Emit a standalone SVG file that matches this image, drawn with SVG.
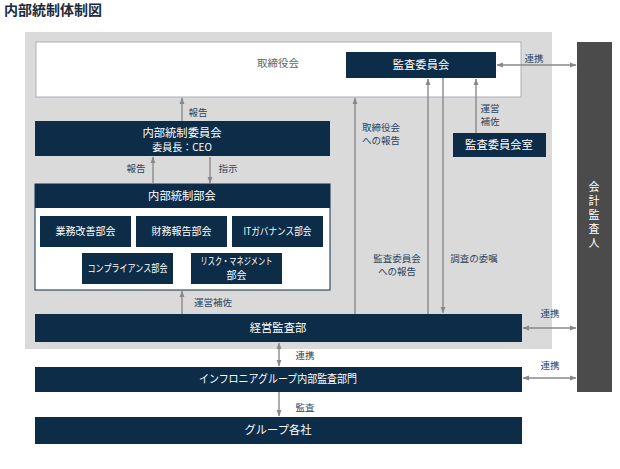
<svg xmlns="http://www.w3.org/2000/svg" width="620" height="469" viewBox="0 0 620 469">
<defs>
<marker id="ah" viewBox="0 0 6 6" refX="5.5" refY="3" markerWidth="5" markerHeight="5" orient="auto-start-reverse">
<path d="M0,0.8 L6,3 L0,5.2 Z" fill="#888"/>
</marker>
<style>
.nv{fill:#0c2c47}
.wt{fill:#fff;font-family:"Noto Sans CJK JP","Noto Sans",sans-serif;font-size:11.3px;text-anchor:middle}
.ws{fill:#fff;font-family:"Noto Sans CJK JP","Noto Sans",sans-serif;font-size:10px;text-anchor:middle}
.lb{fill:#2b4560;font-family:"Noto Sans CJK JP","Noto Sans",sans-serif;font-size:9.5px;text-anchor:middle}
.cn{stroke:#8a8a8a;stroke-width:1.4;fill:none}
</style>
</defs>
<rect width="620" height="469" fill="#fff"/>
<text x="4" y="15" font-family="'Noto Sans CJK JP',sans-serif" font-size="14" font-weight="bold" fill="#1b2b3b">内部統制体制図</text>
<rect x="25" y="32" width="527" height="317" fill="#dadada"/>

<g id="board">
<rect x="36" y="42" width="485" height="55" fill="#fff" stroke="#a9b1bb" stroke-width="1"/>
<text x="278" y="67" font-family="'Noto Sans CJK JP',sans-serif" font-size="10.5" fill="#666" text-anchor="middle">取締役会</text>
</g>
<g id="audit-committee">
<rect class="nv" x="346" y="52" width="150" height="26"/>
<text class="wt" x="421" y="69">監査委員会</text>
</g>
<g id="audit-committee-office">
<rect class="nv" x="453" y="133" width="93" height="24"/>
<text class="wt" x="499" y="149">監査委員会室</text>
</g>
<g id="auditor">
<rect x="577" y="42" width="35" height="350" fill="#4b4b4b"/>
<text x="594" y="181" writing-mode="vertical-rl" font-family="'Noto Sans CJK JP',sans-serif" font-size="11" letter-spacing="3" fill="#fff">会計監査人</text>
</g>
<g id="ic-committee">
<rect class="nv" x="35" y="121" width="295" height="35"/>
<text class="wt" x="182" y="137">内部統制委員会</text>
<text class="ws" x="182" y="151">委員長：CEO</text>
</g>
<g id="ic-subcommittee">
<rect x="35" y="184" width="295" height="106" fill="#fff" stroke="#0c2c47" stroke-width="1"/>
<rect class="nv" x="35" y="184" width="295" height="24"/>
<text class="wt" x="182" y="200">内部統制部会</text>
</g>
<g id="sub1"><rect class="nv" x="40" y="216" width="91" height="31"/><text class="ws" x="85.5" y="235">業務改善部会</text></g>
<g id="sub2"><rect class="nv" x="136" y="216" width="91" height="31"/><text class="ws" x="181.5" y="235">財務報告部会</text></g>
<g id="sub3"><rect class="nv" x="232" y="216" width="91" height="31"/><text class="ws" x="277.5" y="235" textLength="68" lengthAdjust="spacingAndGlyphs">ITガバナンス部会</text></g>
<g id="sub4"><rect class="nv" x="82" y="253" width="91" height="31"/><text class="ws" x="127.5" y="272" textLength="80" lengthAdjust="spacingAndGlyphs">コンプライアンス部会</text></g>
<g id="sub5"><rect class="nv" x="191" y="253" width="91" height="31"/><text class="ws" x="236.5" y="265" font-size="9.5" textLength="72" lengthAdjust="spacingAndGlyphs">リスク・マネジメント</text><text class="ws" x="236.5" y="279" font-size="9.5">部会</text></g>
<g id="mgmt-audit">
<rect class="nv" x="35" y="314" width="487" height="28"/>
<text class="wt" x="278" y="332">経営監査部</text>
</g>
<g id="group-audit">
<rect class="nv" x="35" y="367" width="487" height="25"/>
<text class="wt" x="278" y="383" textLength="158" lengthAdjust="spacingAndGlyphs">インフロニアグループ内部監査部門</text>
</g>
<g id="group-companies">
<rect class="nv" x="35" y="417" width="487" height="27"/>
<text class="wt" x="278" y="434">グループ各社</text>
</g>

<g id="connectors">
<line class="cn" x1="182" y1="121" x2="182" y2="98" marker-end="url(#ah)"/>
<line class="cn" x1="153" y1="184" x2="153" y2="157" marker-end="url(#ah)"/>
<line class="cn" x1="210" y1="157" x2="210" y2="183" marker-end="url(#ah)"/>
<line class="cn" x1="182" y1="314" x2="182" y2="291" marker-end="url(#ah)"/>
<line class="cn" x1="355" y1="314" x2="355" y2="98" marker-end="url(#ah)"/>
<line class="cn" x1="428" y1="314" x2="428" y2="79" marker-end="url(#ah)"/>
<line class="cn" x1="443" y1="78" x2="443" y2="313" marker-end="url(#ah)"/>
<line class="cn" x1="476" y1="133" x2="476" y2="79" marker-end="url(#ah)"/>
<line class="cn" x1="497" y1="65" x2="576" y2="65" marker-start="url(#ah)" marker-end="url(#ah)"/>
<line class="cn" x1="523" y1="328" x2="576" y2="328" marker-start="url(#ah)" marker-end="url(#ah)"/>
<line class="cn" x1="523" y1="378" x2="576" y2="378" marker-start="url(#ah)" marker-end="url(#ah)"/>
<line class="cn" x1="279" y1="343" x2="279" y2="366" marker-start="url(#ah)" marker-end="url(#ah)"/>
<line class="cn" x1="279" y1="392" x2="279" y2="416" marker-end="url(#ah)"/>
<text class="lb" x="198" y="116">報告</text>
<text class="lb" x="136" y="172">報告</text>
<text class="lb" x="228" y="172">指示</text>
<text class="lb" x="213" y="306">運営補佐</text>
<text class="lb" x="381" y="131">取締役会</text>
<text class="lb" x="381" y="144">への報告</text>
<text class="lb" x="397" y="262">監査委員会</text>
<text class="lb" x="397" y="275">への報告</text>
<text class="lb" x="474" y="262">調査の委嘱</text>
<text class="lb" x="490" y="112">運営</text>
<text class="lb" x="490" y="125">補佐</text>
<text class="lb" x="534" y="62">連携</text>
<text class="lb" x="550" y="317">連携</text>
<text class="lb" x="550" y="369">連携</text>
<text class="lb" x="305" y="359">連携</text>
<text class="lb" x="305" y="411">監査</text>
</g>
</svg>
